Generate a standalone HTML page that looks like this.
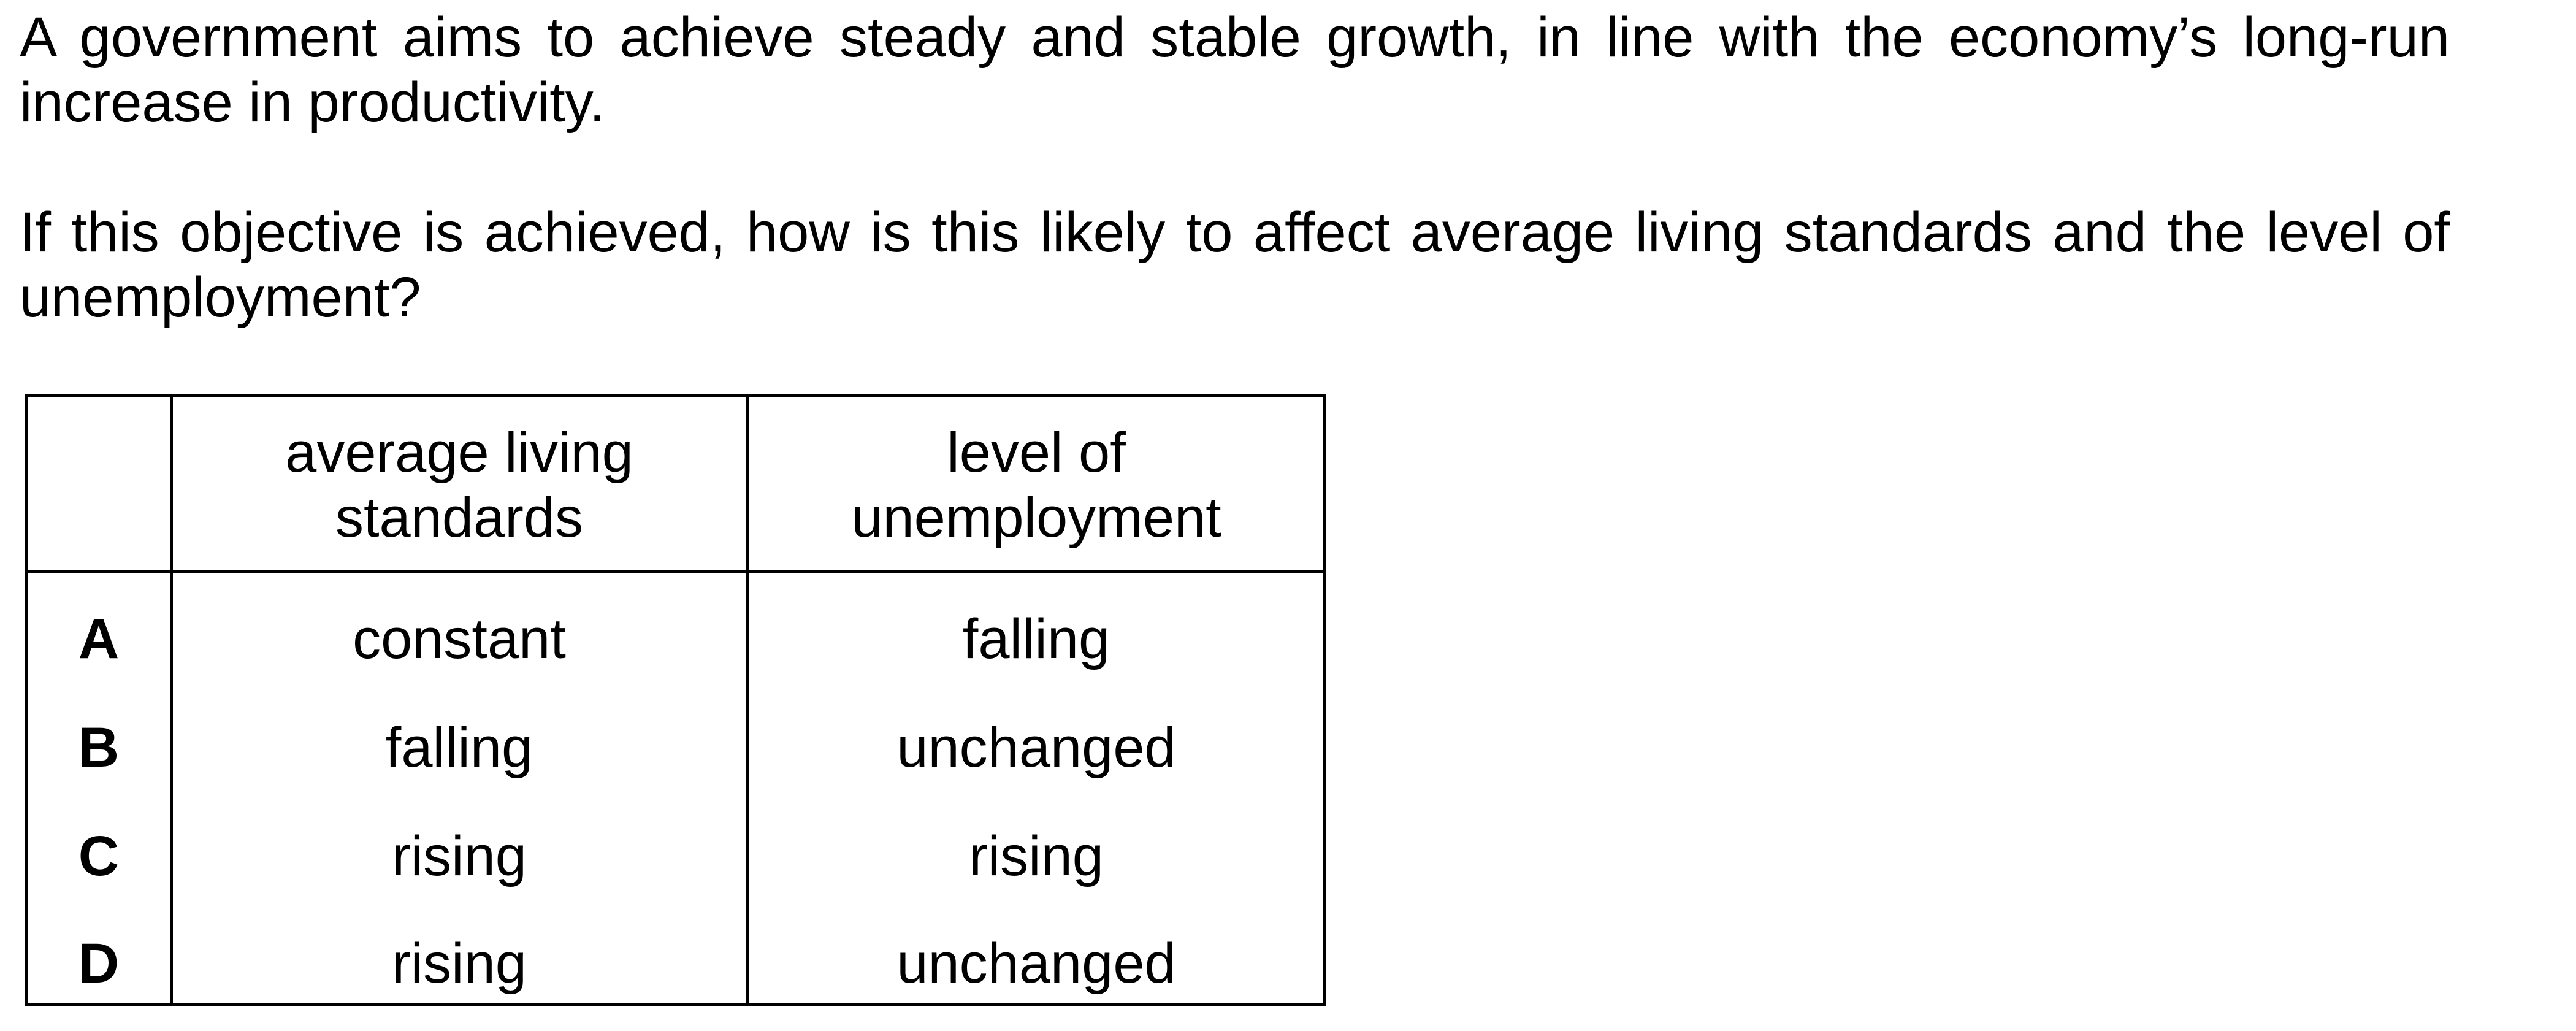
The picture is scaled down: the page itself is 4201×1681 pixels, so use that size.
<!DOCTYPE html>
<html><head><meta charset="utf-8"><style>
html,body{margin:0;padding:0;background:#fff;}
body{width:4201px;height:1681px;position:relative;overflow:hidden;font-family:"Liberation Sans",Arial,sans-serif;color:#000;}
.l{position:absolute;left:32px;width:3963px;font-size:92px;line-height:106px;white-space:nowrap;}
.j{text-align:justify;text-align-last:justify;white-space:normal;}
.b{position:absolute;background:#000;}
.c{position:absolute;width:900px;margin-left:-450px;text-align:center;font-size:92px;line-height:106px;}
.lab{font-weight:bold;}
</style></head><body>
<div class="l j" style="top:8px">A government aims to achieve steady and stable growth, in line with the economy’s long-run</div>
<div class="l" style="top:114px">increase in productivity.</div>
<div class="l j" style="top:326px">If this objective is achieved, how is this likely to affect average living standards and the level of</div>
<div class="l" style="top:432px">unemployment?</div>

<div>
<div class="b" style="left:41px;top:642px;width:2122px;height:5px"></div>
<div class="b" style="left:41px;top:1636px;width:2122px;height:5px"></div>
<div class="b" style="left:41px;top:930px;width:2122px;height:5px"></div>
<div class="b" style="left:41px;top:642px;width:5px;height:999px"></div>
<div class="b" style="left:2158px;top:642px;width:5px;height:999px"></div>
<div class="b" style="left:277px;top:642px;width:5px;height:999px"></div>
<div class="b" style="left:1217px;top:642px;width:5px;height:999px"></div>

<div class="c" style="left:749px;top:685px">average living<br>standards</div>
<div class="c" style="left:1690px;top:685px">level of<br>unemployment</div>

<div class="c lab" style="left:161px;top:989px">A</div>
<div class="c" style="left:749px;top:989px">constant</div>
<div class="c" style="left:1690px;top:989px">falling</div>

<div class="c lab" style="left:161px;top:1166px">B</div>
<div class="c" style="left:749px;top:1166px">falling</div>
<div class="c" style="left:1690px;top:1166px">unchanged</div>

<div class="c lab" style="left:161px;top:1343px">C</div>
<div class="c" style="left:749px;top:1343px">rising</div>
<div class="c" style="left:1690px;top:1343px">rising</div>

<div class="c lab" style="left:161px;top:1518px">D</div>
<div class="c" style="left:749px;top:1518px">rising</div>
<div class="c" style="left:1690px;top:1518px">unchanged</div>
</div>
</body></html>
